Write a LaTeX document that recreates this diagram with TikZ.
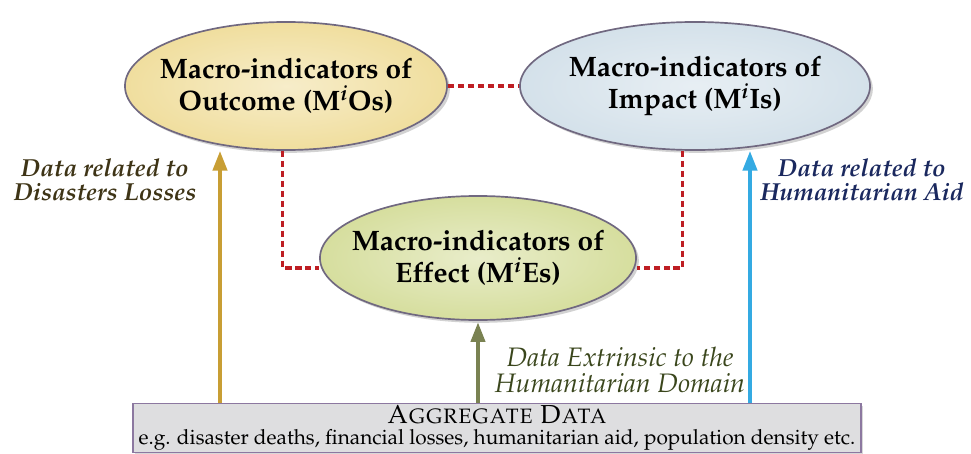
\documentclass[tikz,border=0pt]{standalone}
\usepackage[T1]{fontenc}
\usepackage{mathpazo}
\usetikzlibrary{positioning,shapes,arrows.meta,shadows}

\definecolor{outfill}{RGB}{240,222,158}
\definecolor{impfill}{RGB}{212,225,234}
\definecolor{efffill}{RGB}{214,222,158}
\definecolor{rimcol}{RGB}{112,104,128}
\definecolor{linkred}{RGB}{190,30,35}
\definecolor{goldarr}{RGB}{200,158,52}
\definecolor{bluearr}{RGB}{52,170,226}
\definecolor{olivearr}{RGB}{122,130,82}
\definecolor{losstxt}{RGB}{62,52,22}
\definecolor{aidtxt}{RGB}{26,40,94}
\definecolor{exttxt}{RGB}{58,70,28}
\definecolor{boxfill}{RGB}{222,222,224}
\definecolor{boxrim}{RGB}{140,120,160}

\tikzset{
  indicator/.style={ellipse, draw=rimcol, line width=1.2pt, inner xsep=-0.6cm, inner ysep=0pt, align=center,
    font=\fontsize{20}{22.5}\selectfont\bfseries,
    drop shadow={shadow xshift=2pt, shadow yshift=-2pt, fill=black!35}},
  link/.style={draw=linkred, line width=2.3pt, dash pattern=on 4.3pt off 2.8pt},
  feed/.style={line width=2.8pt, -{Triangle[width=10pt,length=14pt]}},
  flowtxt/.style={align=center, font=\fontsize{17.5}{17.5}\selectfont\bfseries\itshape},
}

\begin{document}
\begin{tikzpicture}[x=0.025cm,y=-0.025cm]
			\useasboundingbox (0,0) rectangle (971,453);
			% indicator ellipses
			\node[indicator, minimum width=8.05cm, minimum height=3.2cm,
				inner color=outfill!55!white, outer color=outfill] (out) at (286,86)
				{Macro-indicators of\\Outcome (M\textsuperscript{\textit{i}}Os)};
			\node[indicator, minimum width=8.75cm, minimum height=3.2cm,
				inner color=impfill!55!white, outer color=impfill] (imp) at (695,86)
				{Macro-indicators of\\Impact (M\textsuperscript{\textit{i}}Is)};
			\node[indicator, minimum width=7.9cm, minimum height=3.1cm,
				inner color=efffill!55!white, outer color=efffill] (eff) at (478,258)
				{Macro-indicators of\\Effect (M\textsuperscript{\textit{i}}Es)};
			% links between indicators
			\draw[link] (out.east) -- (imp.west);
			\draw[link] ([xshift=-0.08cm]out.south) |- ([yshift=-0.25cm]eff.west);
			\draw[link] ([xshift=-0.32cm]imp.south) |- ([yshift=-0.25cm]eff.east);
			% aggregate data box
			\node[draw=boxrim, line width=1pt, fill=boxfill, minimum width=18.2cm, minimum height=1.22cm,
				inner sep=0pt, align=center,
				drop shadow={shadow xshift=1.5pt, shadow yshift=-1.5pt, fill=black!30}] (agg) at (497,428)
				{{\fontsize{18.5}{18}\selectfont\scshape Aggregate Data}\\[3pt]
				 {\fontsize{14.8}{17.5}\selectfont e.g. disaster deaths, financial losses, humanitarian aid, population density etc.}};
			% data feeds
			\foreach \nm/\xx/\col/\tgt in {lossin/220/goldarr/out, aidin/750/bluearr/imp} {
				\coordinate (\nm) at (\xx,0);
				\draw[feed, \col] (agg.north -| \nm) -- (\tgt.south -| \nm);
			}
			\draw[feed, olivearr, shorten >=1pt] (agg.north -| eff.south) -- (eff.south);
			% feed labels
			\node[flowtxt, text=losstxt] (losslbl) at (105,180) {Data related to\\Disasters Losses};
			\node[flowtxt, text=aidtxt] (aidlbl) at (862,180) {Data related to\\Humanitarian Aid};
			\node[flowtxt, font=\fontsize{19}{18}\selectfont\itshape, text=exttxt] (extlbl) at (620,370)
				{Data Extrinsic to the\\Humanitarian Domain};
		\end{tikzpicture}
\end{document}
